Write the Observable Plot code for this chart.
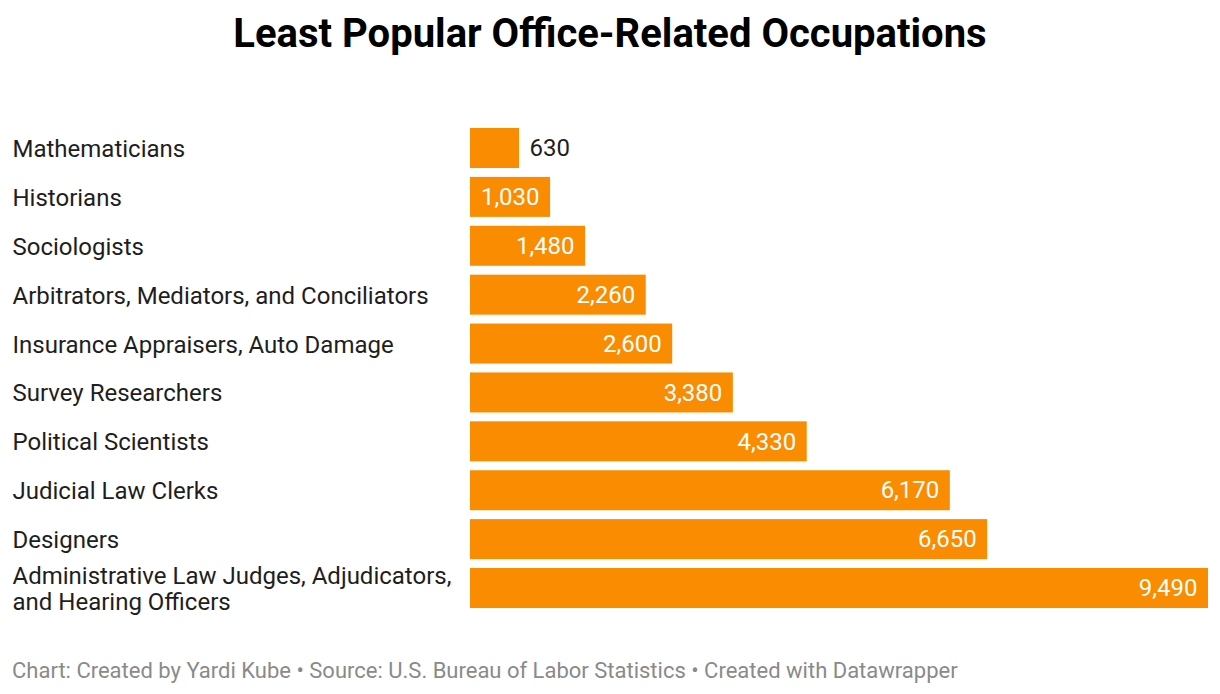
<!DOCTYPE html>
<html>
<head>
<meta charset="utf-8">
<script src="https://cdn.jsdelivr.net/npm/d3@7"></script>
<script src="https://cdn.jsdelivr.net/npm/@observablehq/plot@0.6"></script>
<style>
  html, body { margin: 0; padding: 0; background: #fff; }
  body { width: 1220px; height: 694px; overflow: hidden; font-family: Roboto, sans-serif; }
  #title { height: 90px; box-sizing: border-box; padding-top: 12px; text-align: center; font-size: 40px; font-weight: 700; color: #000; line-height: 44px; }
  #caption { padding-left: 12px; font-size: 22px; color: #8a8a8a; line-height: 24px; padding-top: 19px; }
  svg { display: block; }
</style>
</head>
<body>
<div id="title">Least Popular Office-Related Occupations</div>
<div id="chart"></div>
<div id="caption">Chart: Created by Yardi Kube • Source: U.S. Bureau of Labor Statistics • Created with Datawrapper</div>
<script>
const occupations = [
  "Mathematicians",
  "Historians",
  "Sociologists",
  "Arbitrators, Mediators, and Conciliators",
  "Insurance Appraisers, Auto Damage",
  "Survey Researchers",
  "Political Scientists",
  "Judicial Law Clerks",
  "Designers",
  "Administrative Law Judges, Adjudicators, and Hearing Officers"
];
const employment = [630, 1030, 1480, 2260, 2600, 3380, 4330, 6170, 6650, 9490];
const labels = [
  "Mathematicians",
  "Historians",
  "Sociologists",
  "Arbitrators, Mediators, and Conciliators",
  "Insurance Appraisers, Auto Damage",
  "Survey Researchers",
  "Political Scientists",
  "Judicial Law Clerks",
  "Designers",
  "Administrative Law Judges, Adjudicators,\nand Hearing Officers"
];

const data = occupations.map((name, i) => ({name, value: employment[i], label: labels[i]}));
const fmt = d3.format(",");
const inside = d => d.value >= 1000;

const chart = Plot.plot({
  width: 1220,
  height: 550,
  marginLeft: 470,
  marginRight: 12,
  marginTop: 38,
  marginBottom: 32,
  style: {fontFamily: "Roboto, sans-serif", fontSize: "24px", background: "#fff"},
  x: {domain: [0, 9490], axis: null},
  y: {domain: occupations, axis: null, paddingInner: 0.182, paddingOuter: 0, round: false},
  marks: [
    Plot.barX(data, {x: "value", y: "name", fill: "#f98c00"}),
    Plot.text(data, {
      y: "name", text: "label", frameAnchor: "left", textAnchor: "start", dx: -458,
      fill: "#1e1e1e", fontSize: 24, lineHeight: 1.1
    }),
    Plot.text(data.filter(inside), {
      x: "value", y: "name", text: d => fmt(d.value), textAnchor: "end", dx: -11,
      fill: "#fff", fontSize: 24
    }),
    Plot.text(data.filter(d => !inside(d)), {
      x: "value", y: "name", text: d => fmt(d.value), textAnchor: "start", dx: 10,
      fill: "#1e1e1e", fontSize: 24
    })
  ]
});
document.getElementById("chart").appendChild(chart);
</script>
</body>
</html>
